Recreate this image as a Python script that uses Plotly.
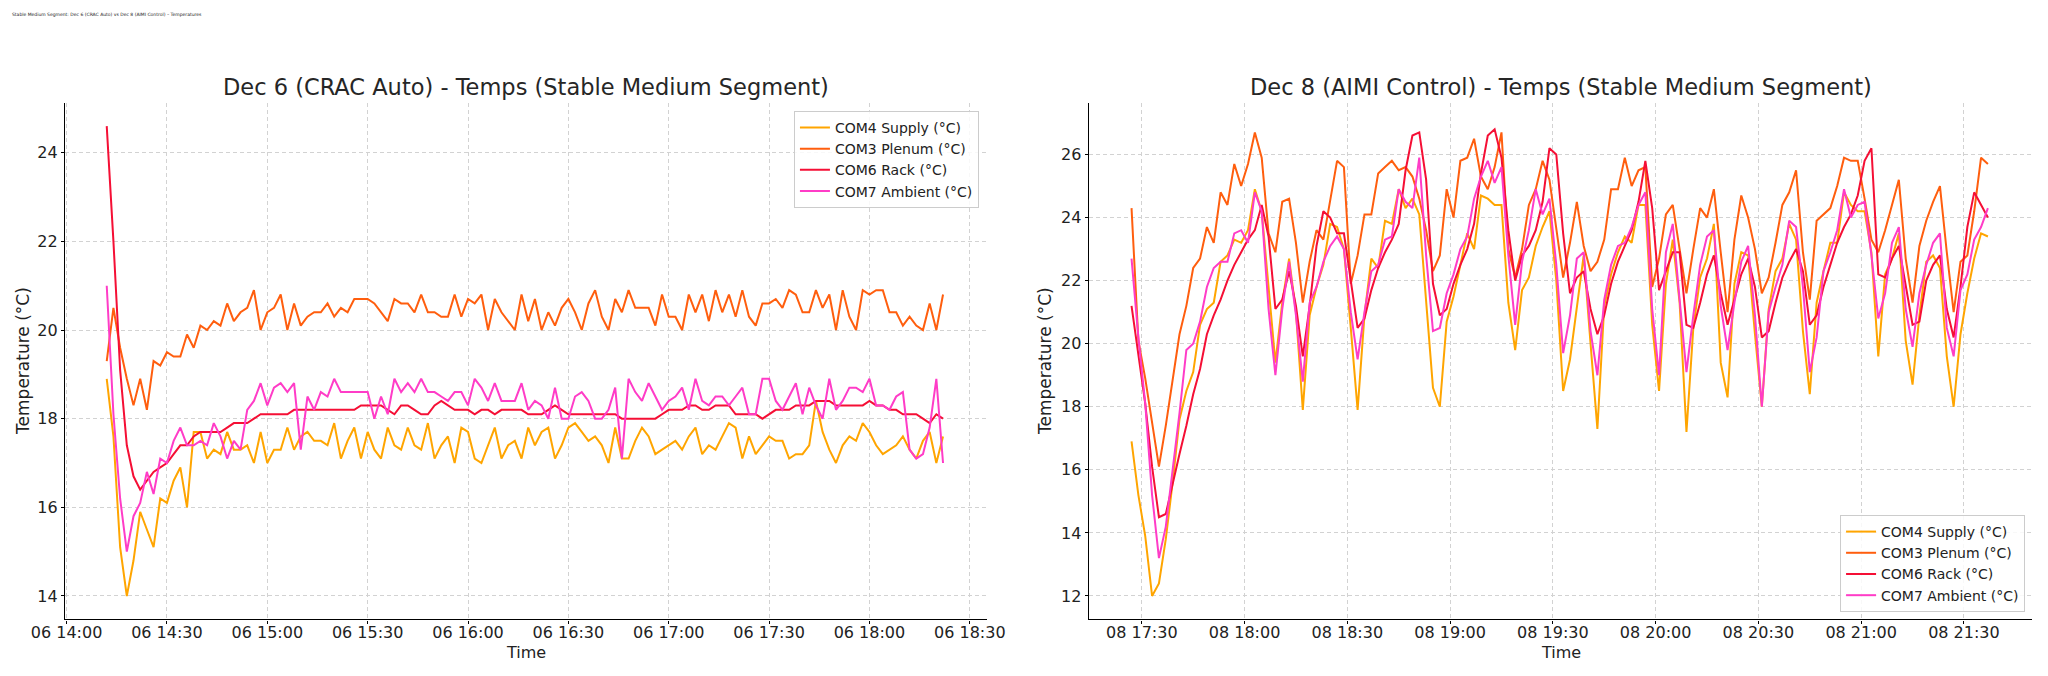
import pandas as pd
import plotly.graph_objects as go

# ---- Dec 6 (CRAC Auto), samples every 2 min from 14:12 ----
dec6_start = "2024-12-06 14:12"
dec6_supply = [
    18.9, 17.6, 15.1, 14.0, 14.8, 15.9, 15.5, 15.1, 16.2, 16.1,
    16.6, 16.9, 16.0, 17.7, 17.7, 17.1, 17.3, 17.2, 17.7, 17.3,
    17.3, 17.4, 17.0, 17.7, 17.0, 17.3, 17.3, 17.8, 17.3, 17.6,
    17.7, 17.5, 17.5, 17.4, 17.9, 17.1, 17.5, 17.8, 17.1, 17.7,
    17.3, 17.1, 17.8, 17.4, 17.3, 17.8, 17.4, 17.3, 17.9, 17.1,
    17.4, 17.6, 17.0, 17.8, 17.7, 17.1, 17.0, 17.4, 17.8, 17.1,
    17.4, 17.5, 17.1, 17.8, 17.4, 17.7, 17.8, 17.1, 17.4, 17.8,
    17.9, 17.7, 17.5, 17.6, 17.4, 17.0, 17.8, 17.1, 17.1, 17.5,
    17.8, 17.6, 17.2, 17.3, 17.4, 17.5, 17.3, 17.6, 17.8, 17.2,
    17.4, 17.3, 17.6, 17.9, 17.8, 17.1, 17.6, 17.2, 17.4, 17.6,
    17.5, 17.5, 17.1, 17.2, 17.2, 17.4, 18.4, 17.7, 17.3, 17.0,
    17.4, 17.6, 17.5, 17.9, 17.7, 17.4, 17.2, 17.3, 17.4, 17.6,
    17.3, 17.1, 17.5, 17.7, 17.0, 17.6,
]
dec6_plenum = [
    19.3, 20.5, 19.6, 18.9, 18.3, 18.9, 18.2, 19.3, 19.2, 19.5,
    19.4, 19.4, 19.9, 19.6, 20.1, 20.0, 20.2, 20.1, 20.6, 20.2,
    20.4, 20.5, 20.9, 20.0, 20.4, 20.5, 20.8, 20.0, 20.6, 20.1,
    20.3, 20.4, 20.4, 20.6, 20.3, 20.5, 20.4, 20.7, 20.7, 20.7,
    20.6, 20.4, 20.2, 20.7, 20.6, 20.6, 20.4, 20.8, 20.4, 20.4,
    20.3, 20.3, 20.8, 20.3, 20.7, 20.6, 20.8, 20.0, 20.7, 20.4,
    20.2, 20.0, 20.8, 20.2, 20.7, 20.0, 20.4, 20.1, 20.5, 20.7,
    20.4, 20.0, 20.6, 20.9, 20.3, 20.0, 20.7, 20.4, 20.9, 20.5,
    20.5, 20.5, 20.1, 20.8, 20.3, 20.3, 20.0, 20.8, 20.4, 20.8,
    20.2, 20.9, 20.4, 20.8, 20.3, 20.9, 20.3, 20.1, 20.6, 20.6,
    20.7, 20.5, 20.9, 20.8, 20.4, 20.4, 20.9, 20.5, 20.8, 20.0,
    20.9, 20.3, 20.0, 20.9, 20.8, 20.9, 20.9, 20.4, 20.4, 20.1,
    20.3, 20.1, 20.0, 20.6, 20.0, 20.8,
]
dec6_rack = [
    24.6, 22.0, 19.1, 17.4, 16.7, 16.4, 16.6, 16.8, 16.9, 17.0,
    17.2, 17.4, 17.4, 17.6, 17.7, 17.7, 17.7, 17.7, 17.8, 17.9,
    17.9, 17.9, 18.0, 18.1, 18.1, 18.1, 18.1, 18.1, 18.2, 18.2,
    18.2, 18.2, 18.2, 18.2, 18.2, 18.2, 18.2, 18.2, 18.3, 18.3,
    18.3, 18.3, 18.2, 18.1, 18.3, 18.3, 18.2, 18.1, 18.1, 18.3,
    18.4, 18.3, 18.2, 18.2, 18.2, 18.1, 18.2, 18.2, 18.1, 18.2,
    18.2, 18.2, 18.2, 18.1, 18.1, 18.1, 18.2, 18.3, 18.2, 18.1,
    18.1, 18.1, 18.1, 18.1, 18.1, 18.1, 18.1, 18.0, 18.0, 18.0,
    18.0, 18.0, 18.0, 18.1, 18.2, 18.2, 18.2, 18.3, 18.3, 18.2,
    18.2, 18.3, 18.3, 18.3, 18.1, 18.1, 18.1, 18.1, 18.0, 18.1,
    18.2, 18.2, 18.2, 18.3, 18.3, 18.3, 18.4, 18.4, 18.4, 18.3,
    18.3, 18.3, 18.3, 18.3, 18.4, 18.3, 18.3, 18.2, 18.2, 18.1,
    18.1, 18.1, 18.0, 17.9, 18.1, 18.0,
]
dec6_ambient = [
    21.0, 18.1, 16.2, 15.0, 15.8, 16.1, 16.8, 16.3, 17.1, 17.0,
    17.5, 17.8, 17.4, 17.4, 17.5, 17.4, 17.9, 17.6, 17.1, 17.5,
    17.3, 18.2, 18.4, 18.8, 18.3, 18.7, 18.8, 18.6, 18.8, 17.3,
    18.5, 18.2, 18.6, 18.5, 18.9, 18.6, 18.6, 18.6, 18.6, 18.6,
    18.0, 18.5, 18.1, 18.9, 18.6, 18.8, 18.6, 18.9, 18.6, 18.6,
    18.5, 18.4, 18.6, 18.6, 18.3, 18.9, 18.7, 18.4, 18.8, 18.4,
    18.4, 18.4, 18.8, 18.2, 18.4, 18.3, 18.0, 18.7, 18.0, 18.0,
    18.5, 18.6, 18.4, 18.0, 18.0, 18.2, 18.7, 17.1, 18.9, 18.6,
    18.4, 18.8, 18.5, 18.2, 18.4, 18.5, 18.7, 18.2, 18.9, 18.4,
    18.3, 18.5, 18.5, 18.3, 18.5, 18.7, 18.1, 18.1, 18.9, 18.9,
    18.4, 18.2, 18.5, 18.8, 18.1, 18.7, 18.3, 18.0, 18.9, 18.2,
    18.4, 18.7, 18.7, 18.6, 18.9, 18.3, 18.3, 18.2, 18.5, 18.6,
    17.3, 17.1, 17.2, 17.8, 18.9, 17.0,
]

# ---- Dec 8 (AIMI Control), samples every 2 min from 17:27 ----
dec8_start = "2024-12-08 17:27"
dec8_supply = [
    16.9, 15.2, 13.9, 12.0, 12.4, 13.8, 15.6, 17.6, 18.5, 19.1,
    20.6, 21.1, 21.3, 22.6, 22.8, 23.3, 23.2, 23.6, 24.9, 24.2,
    21.8, 19.4, 21.3, 22.7, 21.0, 17.9, 20.9, 21.8, 22.5, 23.8,
    23.7, 23.0, 20.5, 17.9, 20.9, 22.7, 22.4, 23.9, 23.8, 24.9,
    24.3, 24.6, 24.1, 21.4, 18.6, 18.0, 20.7, 21.5, 22.5, 23.5,
    23.0, 24.7, 24.6, 24.4, 24.4, 21.3, 19.8, 21.7, 22.1, 23.1,
    23.7, 24.2, 22.0, 18.5, 19.5, 21.2, 22.8, 20.0, 17.3, 21.2,
    22.2, 22.9, 23.4, 23.2, 24.4, 24.4, 20.6, 18.5, 21.9, 23.3,
    21.3, 17.2, 20.5, 22.1, 22.7, 23.8, 19.4, 18.3, 21.9, 22.9,
    22.8, 20.3, 18.0, 21.1, 22.3, 22.7, 23.8, 23.3, 20.4, 18.4,
    21.3, 22.3, 23.2, 23.2, 24.8, 24.4, 24.2, 24.2, 22.9, 19.6,
    22.2, 22.7, 23.5, 20.1, 18.7, 20.9, 22.6, 22.8, 22.4, 19.6,
    18.0, 20.3, 21.6, 22.7, 23.5, 23.4,
]
dec8_plenum = [
    24.3, 20.1, 18.9, 17.5, 16.1, 17.4, 18.9, 20.3, 21.2, 22.4,
    22.7, 23.7, 23.2, 24.8, 24.4, 25.7, 25.0, 25.7, 26.7, 25.9,
    23.5, 22.9, 24.5, 24.6, 23.2, 21.3, 22.6, 23.6, 23.3, 24.6,
    25.8, 25.6, 21.9, 22.8, 24.1, 24.1, 25.4, 25.6, 25.8, 25.5,
    25.6, 25.3, 24.6, 23.6, 22.3, 22.8, 24.9, 24.0, 25.8, 25.9,
    26.5, 25.3, 24.9, 25.6, 26.7, 23.0, 22.1, 23.0, 24.4, 24.9,
    25.8, 25.2, 23.7, 22.1, 23.2, 24.5, 23.1, 22.3, 22.6, 23.3,
    24.9, 24.9, 25.9, 25.0, 25.5, 25.6, 21.8, 22.7, 24.1, 24.4,
    23.0, 21.6, 23.0, 24.3, 24.0, 24.9, 22.9, 21.0, 23.3, 24.7,
    24.0, 23.0, 21.6, 22.1, 23.2, 24.4, 24.8, 25.5, 22.9, 21.4,
    23.9, 24.1, 24.3, 25.0, 25.9, 25.8, 25.8, 24.6, 23.3, 22.9,
    23.6, 24.4, 25.2, 22.7, 21.3, 23.1, 23.9, 24.5, 25.0, 22.9,
    21.0, 22.6, 22.8, 24.2, 25.9, 25.7,
]
dec8_rack = [
    21.2, 19.7, 18.1, 16.1, 14.5, 14.6, 15.6, 16.5, 17.4, 18.4,
    19.2, 20.3, 20.9, 21.4, 22.0, 22.5, 22.9, 23.3, 23.6, 24.4,
    23.4, 21.1, 21.4, 22.3, 21.2, 19.6, 21.2, 23.1, 24.2, 24.0,
    23.5, 23.5, 22.0, 20.5, 20.8, 21.7, 22.4, 22.9, 23.3, 23.8,
    25.5, 26.6, 26.7, 25.2, 21.9, 20.9, 21.1, 21.9, 22.5, 23.0,
    23.8, 25.4, 26.6, 26.8, 25.9, 23.6, 22.0, 22.8, 23.1, 23.6,
    24.5, 26.2, 26.0, 23.5, 21.6, 22.1, 22.3, 21.1, 20.3, 20.9,
    21.9, 22.6, 23.1, 23.6, 24.5, 25.8, 24.3, 21.7, 22.3, 22.9,
    22.9, 20.6, 20.5, 21.3, 22.2, 22.8, 21.6, 20.6, 21.4, 22.2,
    22.7, 21.8, 20.2, 20.4, 21.3, 22.1, 22.6, 23.0, 22.3, 20.6,
    20.9, 21.8, 22.5, 23.2, 23.7, 24.1, 24.7, 25.8, 26.2, 22.2,
    22.1, 22.7, 23.1, 21.9, 20.6, 20.7, 22.0, 22.5, 22.8, 21.1,
    20.2, 21.8, 23.7, 24.8, 24.4, 24.0,
]
dec8_ambient = [
    22.7, 20.2, 18.1, 15.2, 13.2, 14.2, 16.0, 17.8, 19.8, 20.0,
    20.7, 21.8, 22.4, 22.6, 22.6, 23.5, 23.6, 23.2, 24.8, 24.2,
    21.1, 19.0, 21.1, 22.6, 20.9, 18.8, 21.3, 21.8, 22.6, 23.1,
    23.4, 23.0, 21.0, 19.5, 21.0, 22.3, 22.5, 23.3, 23.4, 24.9,
    24.5, 24.3, 25.9, 22.8, 20.4, 20.5, 21.6, 22.2, 23.0, 23.4,
    24.6, 25.3, 25.8, 25.1, 25.6, 22.8, 20.6, 22.6, 23.6, 24.9,
    24.1, 24.6, 22.5, 19.7, 20.9, 22.7, 22.9, 20.4, 19.0, 21.4,
    22.5, 23.1, 23.2, 23.7, 24.4, 24.8, 21.1, 19.0, 22.9, 23.8,
    21.4, 19.1, 20.9, 22.5, 23.4, 23.6, 21.2, 19.8, 21.3, 22.6,
    23.1, 20.9, 18.0, 21.0, 21.8, 22.5, 23.9, 23.7, 21.8, 19.1,
    20.2, 22.3, 22.9, 23.6, 24.9, 24.0, 24.4, 24.5, 22.8, 20.8,
    21.6, 23.2, 23.7, 21.1, 19.9, 21.6, 22.5, 23.2, 23.5, 20.5,
    19.6, 21.7, 22.2, 23.3, 23.7, 24.3,
]

series_names = ["COM4 Supply (°C)", "COM3 Plenum (°C)", "COM6 Rack (°C)", "COM7 Ambient (°C)"]
series_colors = ["#FFA500", "#FF5E0E", "#F50F35", "#FF3CC7"]

dec6_time = pd.date_range(dec6_start, periods=len(dec6_supply), freq="2min")
dec8_time = pd.date_range(dec8_start, periods=len(dec8_supply), freq="2min")

FONT = "DejaVu Sans"
fig = go.Figure()

panels = [
    (dec6_time, [dec6_supply, dec6_plenum, dec6_rack, dec6_ambient], "x", "y", "legend"),
    (dec8_time, [dec8_supply, dec8_plenum, dec8_rack, dec8_ambient], "x2", "y2", "legend2"),
]
for t, cols, xa, ya, leg in panels:
    for name, color, vals in zip(series_names, series_colors, cols):
        fig.add_trace(go.Scatter(
            x=t, y=vals, mode="lines", name=name,
            line=dict(color=color, width=2),
            xaxis=xa, yaxis=ya, legend=leg,
        ))

# automargin off so the panels sit exactly where the domains put them
axis_style = dict(
    automargin=False,
    showline=True, linecolor="#000000", linewidth=1.3,
    ticks="outside", ticklen=3, tickcolor="#000000", tickwidth=1.1,
    showgrid=True, gridcolor="#d2d2d2", griddash="4px,3px", gridwidth=1,
    zeroline=False, mirror=False,
    tickfont=dict(family=FONT, size=16, color="#222222"),
)
x_style = dict(axis_style, tickformat="%d %H:%M", dtick=30 * 60 * 1000,
               ticklabelstandoff=-5)

fig.update_layout(
    width=2048, height=676,
    margin=dict(l=0, r=0, t=0, b=0),
    paper_bgcolor="white", plot_bgcolor="white",
    font=dict(family=FONT, color="#222222"),
    showlegend=True,
    xaxis=dict(x_style, domain=[0.0317, 0.4817], anchor="y",
               range=["2024-12-06 13:59:30", "2024-12-06 18:35:00"],
               tick0="2024-12-06 14:00"),
    yaxis=dict(axis_style, domain=[0.0836, 0.8482], anchor="x",
               range=[13.47, 25.13], dtick=2, tick0=14),
    xaxis2=dict(x_style, domain=[0.5316, 0.9924], anchor="y2",
                range=["2024-12-08 17:14:30", "2024-12-08 21:50:00"],
                tick0="2024-12-08 17:30"),
    yaxis2=dict(axis_style, domain=[0.0836, 0.8482], anchor="x2",
                range=[11.255, 27.645], dtick=2, tick0=12),
    legend=dict(
        x=0.478, y=0.836, xanchor="right", yanchor="top",
        bgcolor="rgba(255,255,255,0.85)", bordercolor="#cccccc", borderwidth=1,
        font=dict(family=FONT, size=14, color="#222222"),
        tracegroupgap=0, itemwidth=30,
    ),
    legend2=dict(
        x=0.9888, y=0.0947, xanchor="right", yanchor="bottom",
        bgcolor="rgba(255,255,255,0.85)", bordercolor="#cccccc", borderwidth=1,
        font=dict(family=FONT, size=14, color="#222222"),
        tracegroupgap=0, itemwidth=30,
    ),
)

titles = [
    (0.2567, "Dec 6 (CRAC Auto) - Temps (Stable Medium Segment)"),
    (0.762, "Dec 8 (AIMI Control) - Temps (Stable Medium Segment)"),
]
for xc, txt in titles:
    fig.add_annotation(text=txt, x=xc, y=0.8706, xref="paper", yref="paper",
                       xanchor="center", yanchor="middle", showarrow=False,
                       font=dict(family=FONT, size=22.5, color="#262626"))

for xc in (0.2567, 0.762):
    fig.add_annotation(text="Time", x=xc, y=0.035, xref="paper", yref="paper",
                       xanchor="center", yanchor="middle", showarrow=False,
                       font=dict(family=FONT, size=16, color="#222222"))
for xc in (0.0112, 0.5103):
    fig.add_annotation(text="Temperature (°C)", x=xc, y=0.466, xref="paper", yref="paper",
                       xanchor="center", yanchor="middle", showarrow=False, textangle=-90,
                       font=dict(family=FONT, size=17, color="#222222"))

fig.add_annotation(
    text="Stable Medium Segment: Dec 6 (CRAC Auto) vs Dec 8 (AIMI Control) – Temperatures",
    x=0.005, y=0.979, xref="paper", yref="paper", xanchor="left", yanchor="middle",
    showarrow=False, font=dict(family=FONT, size=4.5, color="#222222"))

# the page's default 8px body margin would shift the whole figure
fig.write_html("out.html", config={"displayModeBar": False},
               post_script="document.body.style.margin='0';")
